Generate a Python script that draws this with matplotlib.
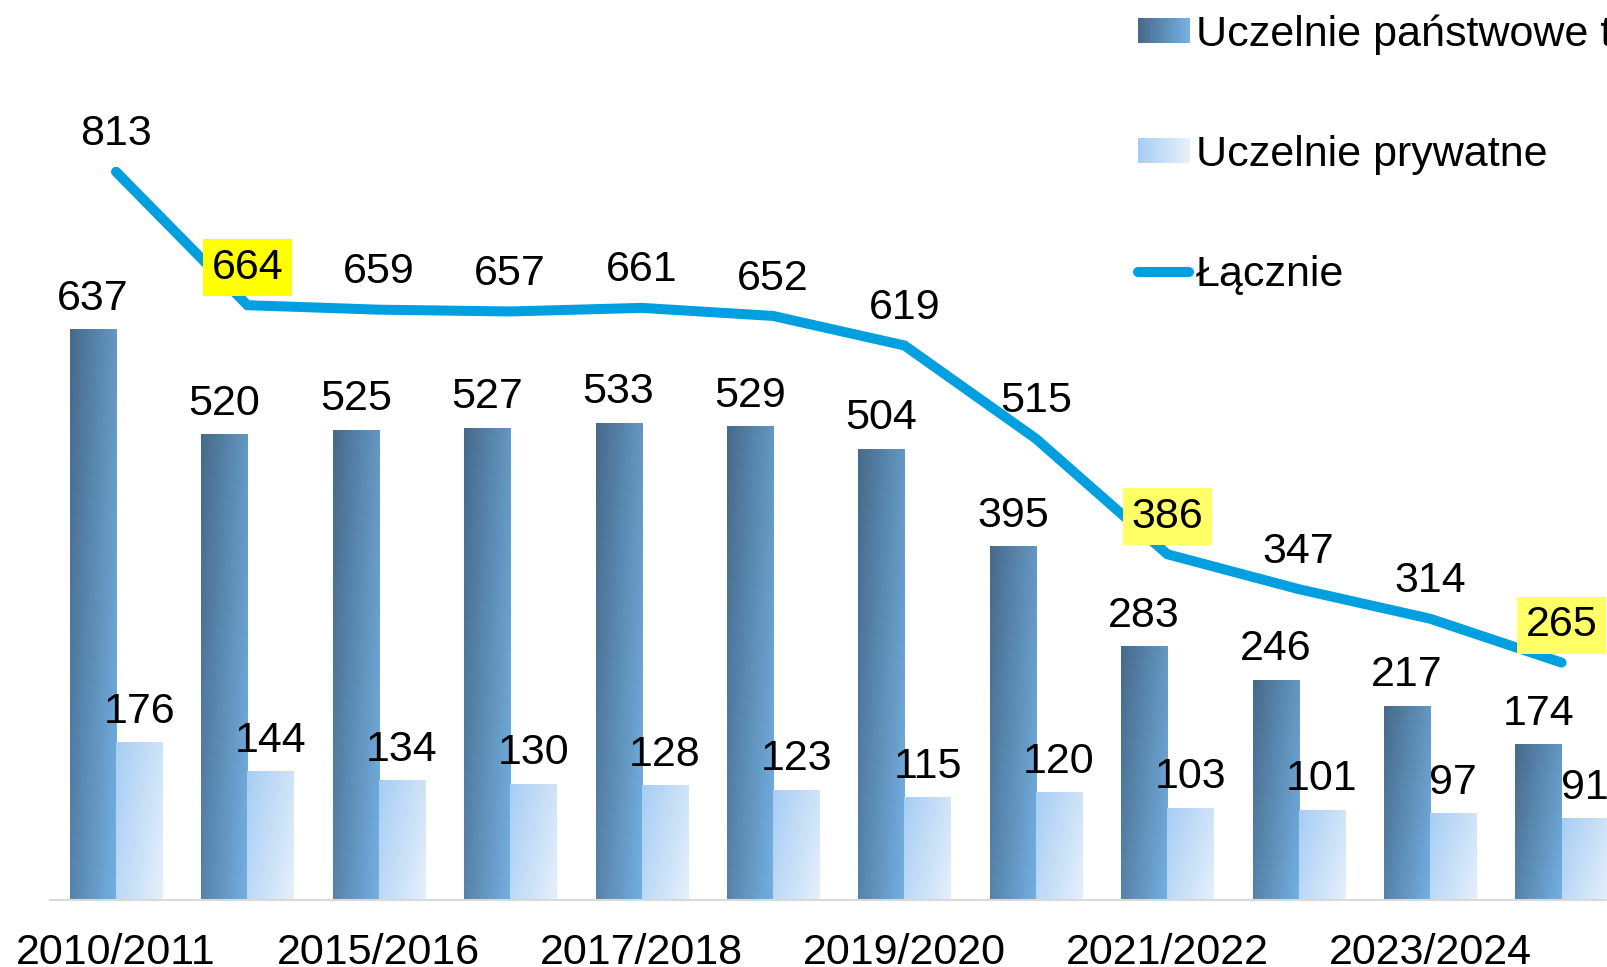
import numpy as np
import matplotlib
matplotlib.use('Agg')
from matplotlib import pyplot as plt
from matplotlib.patches import Rectangle
from matplotlib.lines import Line2D
from matplotlib.legend_handler import HandlerBase

plt.rcParams['font.family'] = ['Liberation Sans', 'DejaVu Sans']

# data
years = ['2010/2011', '2014/2015', '2015/2016', '2016/2017', '2017/2018', '2018/2019',
         '2019/2020', '2020/2021', '2021/2022', '2022/2023', '2023/2024', '2024/2025']
public = [637, 520, 525, 527, 533, 529, 504, 395, 283, 246, 217, 174]
private = [176, 144, 134, 130, 128, 123, 115, 120, 103, 101, 97, 91]
total = [813, 664, 659, 657, 661, 652, 619, 515, 386, 347, 314, 265]
highlight = {1: '#ffff00', 8: '#ffff66', 11: '#ffff66'}

dark0, dark1 = np.array([70, 106, 138]) / 255, np.array([116, 176, 226]) / 255
light0, light1 = np.array([166, 205, 244]) / 255, np.array([230, 240, 251]) / 255
line_col = '#009fdf'
FS = 31


def gradient(c0, c1, n=64):
    u, v = np.meshgrid(np.linspace(0, 1, n), np.linspace(0, 1, n))
    t = 0.65 * u + 0.35 * v
    return c0 + (c1 - c0) * t[..., None]


class GradHandler(HandlerBase):
    def __init__(self, c0, c1):
        super().__init__()
        self.c0, self.c1 = c0, c1

    def create_artists(self, legend, orig, xd, yd, w, h, fs, trans):
        arts = []
        n = 24
        for k in range(n):
            t = k / (n - 1)
            col = self.c0 + (self.c1 - self.c0) * t
            arts.append(Rectangle((-xd + w * k / n, -yd), w / n * 1.05, h,
                                  facecolor=col, edgecolor='none', transform=trans))
        return arts


fig = plt.figure(figsize=(16.07, 9.67), dpi=100)
ax = fig.add_axes([0.0313, 0.0693, 0.9813, 0.9307])

x = np.arange(len(years))
bw = 0.351

bars_pub = ax.bar(x - bw / 2, public, bw, color='none', edgecolor='none')
bars_pri = ax.bar(x + bw / 2, private, bw, color='none', edgecolor='none')
img_pub = gradient(dark0, dark1)
img_pri = gradient(light0, light1)
for bars, img in ((bars_pub, img_pub), (bars_pri, img_pri)):
    for b in bars:
        x0, y0 = b.get_x(), b.get_y()
        im = ax.imshow(img, extent=(x0, x0 + b.get_width(), y0, y0 + b.get_height()),
                       aspect='auto', origin='upper', zorder=2, interpolation='bilinear')
        im.set_clip_path(b)

ax.plot(x, total, color=line_col, lw=7.2, solid_capstyle='round',
        solid_joinstyle='miter', zorder=4)

for i in range(len(years)):
    ax.annotate(str(public[i]), (x[i] - bw / 2, public[i]), xytext=(0, 14),
                textcoords='offset points', ha='center', va='baseline', fontsize=FS, zorder=5)
    ax.annotate(str(private[i]), (x[i] + bw / 2, private[i]), xytext=(0, 14),
                textcoords='offset points', ha='center', va='baseline', fontsize=FS, zorder=5)
    kw = {}
    if i in highlight:
        kw['bbox'] = dict(boxstyle='square,pad=0.2', facecolor=highlight[i], edgecolor='none')
    ax.annotate(str(total[i]), (x[i], total[i]), xytext=(0, 19),
                textcoords='offset points', ha='center', va='baseline', fontsize=FS,
                zorder=6, **kw)

ax.set_xlim(-0.5, len(years) - 0.5)
ax.set_ylim(0, 1004.7)
ax.set_xticks(x[::2], labels=years[::2], fontsize=FS)
ax.tick_params(axis='x', length=0, pad=24)
ax.set_yticks([])
for s in ['left', 'right', 'top']:
    ax.spines[s].set_visible(False)
ax.spines['bottom'].set_color('#d9d9d9')
ax.spines['bottom'].set_linewidth(1.5)

h_pub = Rectangle((0, 0), 1, 1)
h_pri = Rectangle((0, 0), 1, 1)
h_tot = Line2D([], [], color=line_col, lw=7.2, solid_capstyle='round')
fig.legend([h_pub, h_pri, h_tot],
           ['Uczelnie państwowe tech.', 'Uczelnie prywatne', 'Łącznie'],
           handler_map={h_pub: GradHandler(dark0, dark1), h_pri: GradHandler(light0, light1)},
           loc='upper left', bbox_to_anchor=(0.708, 0.985), frameon=False,
           fontsize=FS, borderpad=0, borderaxespad=0, handlelength=1.2,
           handleheight=0.52, handletextpad=0.15, labelspacing=1.86)

fig.savefig('out.png', dpi=100)
